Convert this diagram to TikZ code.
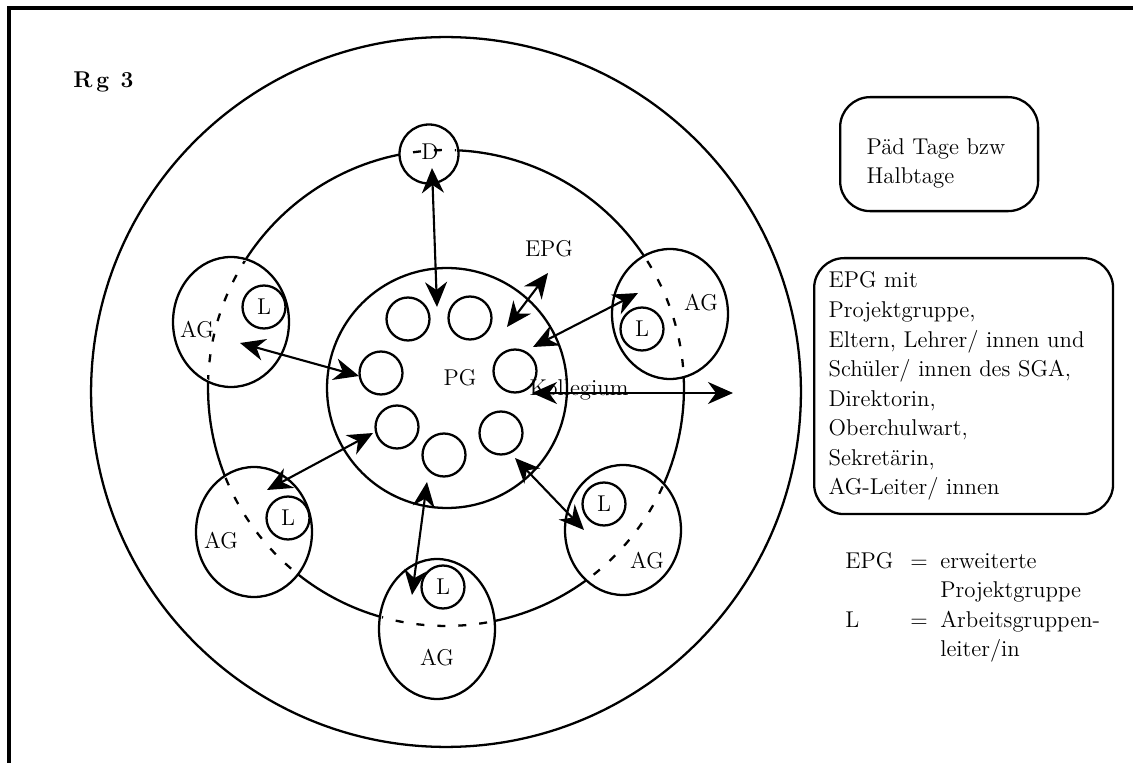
\documentclass[tikz,border=0pt]{standalone}
\usepackage{tikz}
\usetikzlibrary{positioning,arrows.meta,shapes.geometric}

\begin{document}
\begin{tikzpicture}[
  x=0.02cm, y=-0.02cm,
  font=\fontsize{13}{16.8}\selectfont,
  ring/.style={line width=1.3pt},
  ag/.style={ellipse, draw, line width=1.3pt, fill=white, minimum width=2.32cm,
             minimum height=2.6cm, inner sep=0pt},
  sm/.style={circle, draw, line width=1.3pt, fill=white, minimum size=0.86cm, inner sep=0pt},
  box/.style={rectangle, draw, line width=1.3pt, rounded corners=0.6cm, align=left,
              anchor=north west, inner sep=0pt},
  dart/.style={{Stealth[length=0.5cm,width=0.44cm,inset=0.16cm]}-{Stealth[length=0.5cm,width=0.44cm,inset=0.16cm]},
               line width=1.2pt},
  txt/.style={inner sep=0pt}
]
\useasboundingbox (0,0) rectangle (1133,763);
\draw[line width=1.8pt] (1133,8) -- (9,8) -- (9,763);

\node[txt, font=\fontsize{13}{16.8}\selectfont\bfseries, anchor=base west] (rg) at (73,88) {R\,g\enspace3};

% rings
\coordinate (ctr) at (446,388);
\draw[ring] (446,392) circle[radius=7.1cm];
\draw[ring] (ctr) circle[radius=4.76cm];
\node[circle, draw, line width=1.3pt, minimum size=4.8cm, inner sep=0pt] (pg) at (447,388) {};
\foreach \px/\py [count=\i] in {408/319,470/318,515/371,501/433,444/455,397/427,381/373}
  \node[sm] (c\i) at (\px,\py) {};

% working groups on the ring
\node[ag] (agtl) at (231,322) {};
\node[ag] (agtr) at (670,314) {};
\node[ag] (agbl) at (254,532) {};
\node[ag] (agbr) at (623,530) {};
\node[ag, minimum height=2.8cm] (agb) at (437,629) {};
\node[sm, minimum size=1.18cm] (dir) at (429,154) {};

\begin{scope}
  \clip (agtl.center) ellipse[x radius=1.12cm, y radius=1.26cm]
        (agtr.center) ellipse[x radius=1.12cm, y radius=1.26cm]
        (agbl.center) ellipse[x radius=1.12cm, y radius=1.26cm]
        (agbr.center) ellipse[x radius=1.12cm, y radius=1.26cm]
        (agb.center)  ellipse[x radius=1.12cm, y radius=1.36cm]
        (dir.center)  circle[radius=0.55cm];
  \draw[ring, dash pattern=on 0.16cm off 0.26cm] (ctr) circle[radius=4.76cm];
\end{scope}

\node[sm] (ltl) at (264,307) {L};
\node[sm] (ltr) at (642,329) {L};
\node[sm] (lbl) at (288,518) {L};
\node[sm] (lbr) at (604,504) {L};
\node[sm] (lb)  at (443,587) {L};

\node[txt] (dtxt)   at (430,152) {D};
\node[txt] (agtl-t) at (197,330) {AG};
\node[txt] (agtr-t) at (701,303) {AG};
\node[txt] (agbl-t) at (221,541) {AG};
\node[txt] (agbr-t) at (647,561) {AG};
\node[txt] (agb-t)  at (437,658) {AG};
\node[txt] (pg-t)   at (460,378) {PG};
\node[txt] (epg-t)  at (549,249) {EPG};
\node[txt] (koll-t) at (579,390) {Kollegium};

% arrow ends
\coordinate (dir-in)  at (432,168); \coordinate (pg-n)    at (437,307);
\coordinate (pg-nne)  at (507,327); \coordinate (epg-s)   at (548,273);
\coordinate (pg-ne)   at (533,347); \coordinate (agtr-in) at (638,293);
\coordinate (koll-w)  at (532,393); \coordinate (koll-e)  at (733,393);
\coordinate (agtl-in) at (240,343); \coordinate (c7-w)    at (359,376);
\coordinate (agbl-in) at (267,490); \coordinate (c6-w)    at (373,433);
\coordinate (pg-s)    at (427,482); \coordinate (agb-in)  at (412,595);
\coordinate (pg-se)   at (515,458); \coordinate (agbr-in) at (584,530);

\foreach \a/\b in {dir-in/pg-n,pg-nne/epg-s,pg-ne/agtr-in,koll-w/koll-e,
                   agtl-in/c7-w,agbl-in/c6-w,pg-s/agb-in,pg-se/agbr-in}
  \draw[dart] (\a) -- (\b);

% boxes and legend
\node[box, minimum width=3.96cm, minimum height=2.28cm, text width=2.9cm] (paed) at (839,96)
  {\rule{0pt}{0.68cm}Päd Tage bzw\\Halbtage};
\node[box, minimum width=5.98cm, minimum height=5.12cm, text width=5.4cm] (epgbox) at (813,257)
  {EPG mit\\Projektgruppe,\\Eltern, Lehrer/ innen und\\Schüler/ innen des SGA,\\Direktorin,\\Oberchulwart,\\Sekretärin,\\AG-Leiter/ innen};
\node[txt, anchor=base west] (legend) at (845,568)
  {\begin{tabular}[t]{@{}p{1.3cm}@{}p{0.6cm}@{}l@{}}
   EPG & = & erweiterte\\
       &   & Projektgruppe\\
   L   & = & Arbeitsgruppen-\\
       &   & leiter/in
   \end{tabular}};

\end{tikzpicture}
\end{document}
